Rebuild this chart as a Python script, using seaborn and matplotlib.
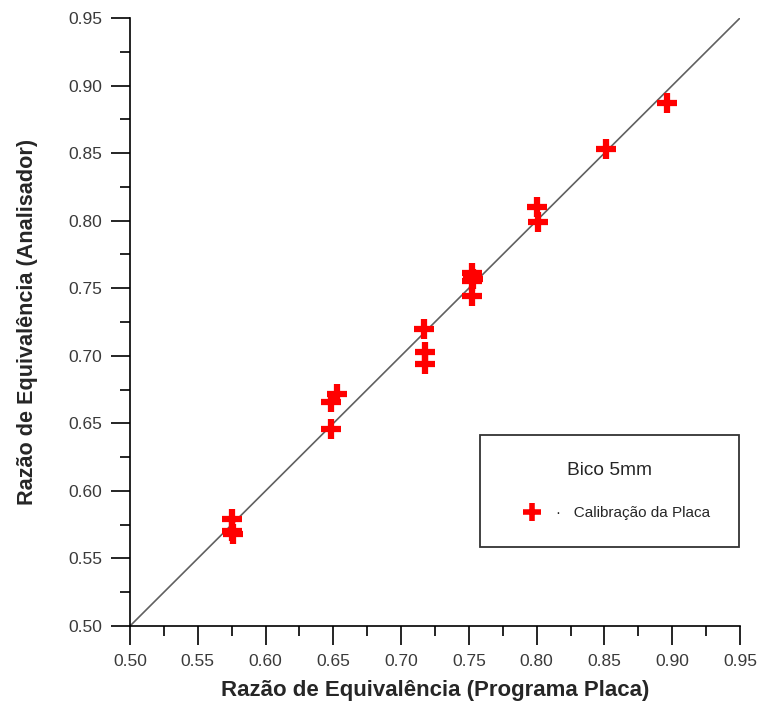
import matplotlib
matplotlib.use("Agg")
import matplotlib.pyplot as plt
import seaborn as sns
import pandas as pd
from matplotlib.lines import Line2D
from matplotlib.ticker import MultipleLocator, FormatStrFormatter

# ---- data ----
x_programa = [0.575, 0.575, 0.576, 0.648, 0.653, 0.648, 0.717, 0.718, 0.718,
              0.752, 0.753, 0.752, 0.752, 0.800, 0.801, 0.851, 0.896]
y_analisador = [0.579, 0.570, 0.568, 0.666, 0.672, 0.646, 0.720, 0.703, 0.694,
                0.761, 0.757, 0.755, 0.744, 0.810, 0.799, 0.853, 0.887]
ref_line = [0.50, 0.95]
ticks = [0.50, 0.55, 0.60, 0.65, 0.70, 0.75, 0.80, 0.85, 0.90, 0.95]
xlabel = "Razão de Equivalência (Programa Placa)"
ylabel = "Razão de Equivalência (Analisador)"
legend_title = "Bico 5mm"
series_label = "Calibração da Placa"

sns.set_style("ticks")
plt.rcParams['font.family'] = ['Liberation Sans', 'DejaVu Sans']

fig = plt.figure(figsize=(7.61, 7.06), dpi=100)
ax = fig.add_axes([0.1708, 0.1133, 0.8016, 0.8612])

df = pd.DataFrame({"x": x_programa, "y": y_analisador})
ref = pd.DataFrame({"x": ref_line, "y": ref_line})

sns.lineplot(data=ref, x="x", y="y", ax=ax, color="#606060", linewidth=1.2, zorder=1)
sns.scatterplot(data=df, x="x", y="y", ax=ax, marker="+", color="#ff0000",
                s=220, linewidth=4.5, zorder=3)

ax.set_xlim(0.50, 0.95)
ax.set_ylim(0.50, 0.95)
ax.set_xticks(ticks)
ax.set_yticks(ticks)
ax.xaxis.set_major_formatter(FormatStrFormatter("%.2f"))
ax.yaxis.set_major_formatter(FormatStrFormatter("%.2f"))
ax.xaxis.set_minor_locator(MultipleLocator(0.025))
ax.yaxis.set_minor_locator(MultipleLocator(0.025))
ax.tick_params(which="major", direction="out", length=14, width=1.2,
               labelsize=12.5, pad=6, color="black", labelcolor="#3a3a3a")
ax.tick_params(which="minor", direction="out", length=7, width=1.2, color="black")
for side in ["top", "right"]:
    ax.spines[side].set_visible(False)
for side in ["left", "bottom"]:
    ax.spines[side].set_linewidth(1.2)
    ax.spines[side].set_color("black")

ax.set_xlabel(xlabel, fontsize=16, fontweight="bold", labelpad=8)
ax.set_ylabel(ylabel, fontsize=15.6, fontweight="bold", labelpad=22)

handle = Line2D([], [], marker="+", color="#ff0000", linestyle="none",
                markersize=13, markeredgewidth=4)
leg = ax.legend([handle], ["·   " + series_label], title=legend_title,
                loc="lower left", bbox_to_anchor=(0.562, 0.117, 0.449, 0.178),
                mode="expand", fontsize=11, title_fontsize=13.8,
                frameon=True, fancybox=False, edgecolor="black",
                borderpad=1.75, handlelength=3.2, handletextpad=0.0,
                labelspacing=0.5)
leg.get_frame().set_linewidth(1.3)
leg._legend_box.sep = 20

fig.savefig("out.png", dpi=100)
